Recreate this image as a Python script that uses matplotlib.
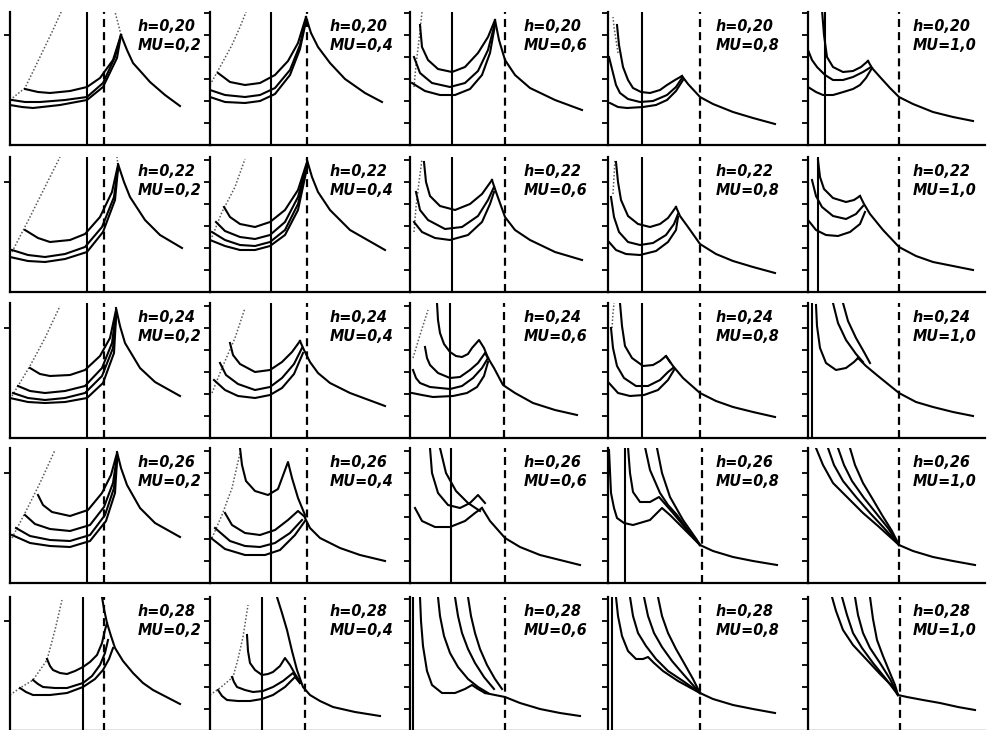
import matplotlib
matplotlib.use('Agg')
import matplotlib.pyplot as plt

h_vals = ['0,20', '0,22', '0,24', '0,26', '0,28']
mu_vals = ['0,2', '0,4', '0,6', '0,8', '1,0']

# frame of each panel in the scan (pixels)
col_left = [10, 210, 410, 608, 808]
col_right = [210, 410, 608, 808, 985]
row_top = [12, 157, 303, 448, 597]
row_bottom = [145, 292, 438, 583, 731]

# vertical marker lines, local x from the left axis, one row per h
solid_x = [[77, 61, 42, 34, 17],
           [77, 61, 42, 34, 10],
           [77, 61, 40, 34, 4],
           [77, 61, 41, 17, 0],
           [73, 52, 3, 4, 0]]
dashed_x = [[94, 97, 95, 92, 91],
            [94, 97, 95, 92, 91],
            [94, 97, 94, 92, 91],
            [94, 97, 95, 94, 91],
            [94, 95, 95, 92, 92]]

# --- h=0,20 ---
env_00 = [[(0, 45), (15, 57), (30, 88), (43, 115), (52, 135)], [(111, 110), (108, 122), (105, 133)]]
lines_00 = [
    [(15, 56), (28, 53), (40, 52), (60, 54), (77, 58), (90, 67), (103, 85), (111, 110)],
    [(2, 45), (15, 43), (30, 43), (55, 45), (77, 48), (93, 62), (105, 88), (111, 110)],
    [(0, 40), (12, 38), (23, 37), (50, 40), (77, 45), (93, 58), (107, 87), (111, 110)],
    [(111, 110), (117, 95), (123, 82), (132, 72), (140, 63), (155, 50), (170, 39)],
]
env_01 = [[(0, 60), (10, 78), (22, 100), (30, 118), (36, 133)]]
lines_01 = [
    [(8, 72), (20, 63), (35, 60), (50, 62), (65, 70), (78, 84), (88, 102), (96, 128)],
    [(0, 55), (15, 50), (35, 48), (50, 50), (65, 57), (80, 75), (90, 100), (96, 126)],
    [(0, 48), (15, 43), (35, 42), (50, 44), (65, 51), (80, 70), (90, 96), (96, 124)],
    [(96, 128), (101, 112), (108, 98), (120, 82), (135, 66), (155, 52), (172, 43)],
]
env_02 = [[(4, 58), (6, 80), (9, 105), (12, 133)]]
lines_02 = [
    [(10, 120), (12, 98), (18, 85), (28, 76), (42, 73), (55, 78), (68, 92), (78, 108), (85, 125)],
    [(4, 88), (10, 72), (22, 62), (40, 58), (55, 62), (68, 74), (78, 95), (85, 122)],
    [(2, 62), (15, 54), (30, 50), (45, 50), (60, 56), (72, 70), (80, 92), (85, 120)],
    [(85, 125), (89, 105), (95, 85), (105, 70), (120, 57), (145, 45), (172, 35)],
]
env_03 = [[(10, 92), (8, 105), (6, 118), (5, 128)]]
lines_03 = [
    [(9, 120), (11, 100), (15, 78), (20, 65), (25, 57), (33, 53), (42, 52), (52, 55), (59, 60), (67, 65), (74, 69)],
    [(1, 88), (5, 72), (8, 60), (12, 52), (20, 46), (32, 43), (45, 44), (59, 50), (68, 58), (74, 67)],
    [(2, 42), (10, 38), (19, 37), (35, 38), (48, 40), (59, 45), (68, 54), (75, 65)],
    [(74, 69), (80, 61), (92, 48), (105, 41), (125, 33), (145, 27), (167, 21)],
]
env_04 = []
lines_04 = [
    [(14, 135), (16, 110), (19, 88), (25, 78), (35, 73), (45, 74), (53, 78), (60, 84)],
    [(0, 95), (4, 85), (9, 78), (17, 70), (25, 65), (35, 65), (45, 68), (55, 73), (63, 78)],
    [(0, 58), (8, 53), (15, 50), (25, 50), (32, 52), (45, 56), (52, 60), (58, 67), (64, 77)],
    [(60, 84), (64, 77), (72, 68), (82, 57), (91, 48), (105, 41), (125, 33), (145, 28), (165, 24)],
]

# --- h=0,22 ---
env_10 = [[(2, 40), (20, 75), (35, 105), (50, 135)], [(108, 127), (107, 135)]]
lines_10 = [
    [(15, 62), (28, 54), (40, 50), (60, 52), (75, 58), (90, 75), (102, 100), (108, 127)],
    [(2, 42), (18, 37), (35, 35), (55, 38), (75, 45), (92, 65), (104, 95), (108, 125)],
    [(0, 35), (18, 31), (35, 30), (55, 33), (77, 40), (93, 60), (105, 92), (108, 123)],
    [(108, 128), (114, 110), (120, 95), (135, 72), (150, 57), (172, 44)],
]
env_11 = [[(2, 55), (12, 80), (25, 105), (35, 133)]]
lines_11 = [
    [(14, 85), (20, 75), (30, 68), (45, 65), (60, 70), (75, 82), (88, 102), (97, 130)],
    [(6, 70), (15, 61), (30, 55), (45, 53), (60, 57), (75, 70), (88, 95), (97, 128)],
    [(2, 60), (15, 52), (30, 47), (45, 46), (60, 50), (75, 62), (88, 88), (97, 126)],
    [(0, 52), (15, 46), (30, 42), (45, 42), (60, 46), (75, 57), (88, 82), (97, 124)],
    [(97, 132), (102, 115), (108, 100), (120, 82), (140, 62), (175, 42)],
]
env_12 = [[(4, 60), (6, 85), (9, 110), (12, 133)]]
lines_12 = [
    [(14, 130), (16, 110), (20, 96), (30, 86), (45, 82), (60, 88), (72, 98), (82, 112)],
    [(6, 100), (10, 82), (18, 72), (35, 63), (52, 65), (68, 76), (78, 92), (84, 105)],
    [(4, 70), (12, 60), (25, 54), (40, 52), (58, 57), (72, 70), (80, 88), (84, 100)],
    [(82, 112), (86, 100), (95, 75), (105, 62), (120, 52), (145, 40), (172, 32)],
]
env_13 = [[(5, 98), (6, 115), (7, 133)]]
lines_13 = [
    [(8, 130), (10, 110), (13, 92), (20, 76), (30, 68), (42, 65), (52, 68), (60, 74), (68, 85)],
    [(3, 95), (6, 75), (11, 60), (20, 50), (32, 47), (45, 49), (58, 57), (66, 68), (70, 78)],
    [(1, 50), (8, 42), (18, 38), (32, 37), (48, 41), (60, 50), (68, 62), (70, 75)],
    [(68, 85), (72, 76), (80, 65), (92, 48), (108, 38), (125, 31), (145, 25), (167, 19)],
]
env_14 = []
lines_14 = [
    [(10, 132), (12, 115), (16, 103), (25, 94), (38, 90), (46, 92), (52, 96)],
    [(4, 112), (8, 96), (14, 85), (25, 76), (38, 73), (48, 78), (55, 86)],
    [(0, 72), (8, 62), (18, 57), (30, 56), (42, 60), (52, 68), (57, 80)],
    [(52, 96), (56, 88), (62, 78), (75, 62), (91, 45), (108, 36), (125, 30), (145, 26), (165, 22)],
]

# --- h=0,24 ---
env_20 = [[(2, 42), (20, 72), (35, 100), (50, 132)]]
lines_20 = [
    [(20, 70), (30, 64), (40, 62), (60, 63), (75, 68), (90, 82), (100, 100), (106, 128)],
    [(8, 52), (20, 47), (35, 45), (55, 47), (75, 52), (92, 70), (102, 95), (106, 125)],
    [(3, 45), (18, 40), (35, 38), (55, 40), (75, 45), (92, 62), (103, 90), (106, 122)],
    [(0, 40), (18, 36), (35, 35), (55, 36), (77, 40), (93, 55), (104, 85), (106, 120)],
    [(106, 130), (110, 112), (115, 95), (130, 70), (145, 56), (170, 42)],
]
env_21 = [[(2, 45), (12, 70), (25, 100), (35, 130)]]
lines_21 = [
    [(20, 95), (23, 83), (30, 74), (45, 66), (60, 68), (72, 76), (82, 86), (90, 97)],
    [(10, 75), (16, 63), (28, 54), (45, 48), (60, 51), (72, 60), (84, 74), (92, 90)],
    [(4, 58), (15, 48), (28, 42), (45, 40), (60, 43), (72, 50), (84, 64), (93, 85)],
    [(90, 97), (94, 88), (100, 76), (108, 65), (120, 55), (140, 45), (175, 32)],
]
env_22 = [[(3, 80), (10, 103), (18, 128)]]
lines_22 = [
    [(27, 135), (28, 118), (30, 105), (34, 94), (40, 86), (46, 82), (52, 81), (58, 84), (62, 90), (69, 98), (74, 90), (78, 80)],
    [(15, 91), (17, 80), (20, 73), (28, 65), (40, 60), (50, 61), (60, 68), (68, 75), (75, 85), (78, 80)],
    [(3, 68), (6, 60), (10, 55), (20, 51), (40, 49), (52, 52), (63, 60), (72, 70), (78, 80)],
    [(2, 45), (12, 43), (23, 41), (43, 42), (57, 45), (67, 51), (74, 62), (78, 76)],
    [(78, 80), (84, 70), (93, 53), (105, 45), (123, 35), (145, 28), (167, 23)],
]
env_23 = [[(4, 110), (5, 125), (6, 135)]]
lines_23 = [
    [(12, 135), (14, 112), (17, 92), (24, 80), (35, 72), (45, 73), (52, 77), (58, 82), (62, 76)],
    [(3, 110), (5, 90), (9, 72), (16, 60), (28, 52), (40, 52), (52, 58), (60, 66), (65, 70)],
    [(1, 55), (10, 45), (22, 42), (36, 43), (50, 48), (60, 58), (66, 68)],
    [(58, 82), (65, 72), (75, 60), (92, 45), (108, 37), (125, 31), (145, 26), (167, 21)],
]
env_24 = []
lines_24 = [
    [(8, 133), (9, 112), (12, 90), (18, 75), (28, 68), (38, 70), (46, 76), (50, 80)],
    [(25, 135), (30, 115), (38, 98), (48, 84), (55, 76)],
    [(35, 135), (40, 117), (48, 100), (56, 86), (62, 75)],
    [(50, 80), (58, 72), (70, 62), (91, 45), (108, 36), (125, 31), (145, 26), (165, 22)],
]

# --- h=0,26 ---
env_30 = [[(2, 45), (15, 70), (30, 100), (45, 133)]]
lines_30 = [
    [(28, 88), (33, 78), (42, 71), (60, 67), (78, 73), (92, 90), (101, 108), (107, 130)],
    [(15, 68), (25, 59), (40, 54), (60, 52), (80, 58), (94, 76), (103, 100), (107, 127)],
    [(6, 55), (20, 47), (40, 43), (60, 42), (80, 48), (95, 68), (104, 95), (107, 124)],
    [(2, 48), (20, 40), (40, 37), (60, 36), (80, 42), (96, 62), (105, 90), (107, 122)],
    [(107, 131), (111, 115), (117, 98), (130, 75), (145, 60), (170, 46)],
]
env_31 = [[(2, 45), (12, 68), (22, 95), (30, 130)]]
lines_31 = [
    [(30, 135), (32, 118), (36, 102), (45, 92), (58, 88), (68, 94), (78, 121), (82, 105), (88, 85), (95, 68)],
    [(15, 70), (22, 58), (35, 50), (50, 48), (65, 53), (78, 63), (88, 72), (95, 66)],
    [(5, 55), (20, 42), (35, 37), (50, 36), (65, 40), (80, 50), (92, 63)],
    [(1, 45), (15, 34), (35, 28), (55, 28), (70, 33), (85, 48), (95, 62)],
    [(95, 65), (100, 55), (110, 45), (130, 35), (150, 28), (175, 22)],
]
env_32 = []
lines_32 = [
    [(20, 135), (22, 110), (28, 90), (38, 78), (50, 75), (60, 80), (68, 88), (75, 80)],
    [(5, 75), (12, 62), (25, 56), (40, 56), (55, 62), (65, 70), (72, 75)],
    [(30, 135), (36, 110), (46, 92), (58, 80), (70, 72)],
    [(72, 75), (80, 62), (95, 45), (110, 36), (130, 28), (150, 23), (170, 18)],
]
env_33 = []
lines_33 = [
    [(20, 136), (22, 110), (25, 91), (32, 81), (42, 81), (51, 86), (58, 78), (65, 70), (80, 52), (92, 38)],
    [(1, 133), (3, 90), (6, 75), (9, 65), (16, 60), (25, 58), (42, 63), (54, 75), (62, 68), (69, 61), (80, 50), (92, 38)],
    [(37, 136), (42, 113), (52, 90), (60, 78), (69, 68), (85, 46), (92, 38)],
    [(49, 135), (54, 110), (62, 86), (75, 63), (89, 43), (92, 38)],
    [(92, 38), (105, 32), (125, 26), (145, 22), (169, 18)],
]
env_34 = []
lines_34 = [
    [(8, 135), (15, 118), (25, 100), (40, 85), (55, 70), (70, 57), (91, 38)],
    [(20, 135), (26, 118), (35, 102), (48, 86), (62, 70), (76, 55), (91, 38)],
    [(30, 135), (36, 118), (44, 102), (56, 85), (68, 70), (80, 55), (91, 38)],
    [(42, 135), (47, 118), (55, 100), (64, 85), (74, 68), (84, 52), (91, 38)],
    [(91, 38), (105, 32), (125, 26), (145, 22), (167, 18)],
]

# --- h=0,28 ---
env_40 = [[(0, 36), (10, 43), (23, 51), (37, 71), (45, 101), (52, 131)]]
lines_40 = [
    [(92, 134), (94, 122), (97, 108), (101, 95), (105, 83), (113, 70), (123, 58), (133, 48), (143, 41), (170, 27)],
    [(37, 72), (40, 65), (43, 61), (50, 58), (57, 57), (65, 60), (73, 64), (80, 69), (87, 76), (92, 88), (95, 101), (97, 108)],
    [(23, 51), (28, 47), (33, 44), (45, 43), (57, 43), (73, 48), (82, 55), (90, 66), (95, 78), (98, 91)],
    [(10, 43), (16, 39), (23, 36), (40, 36), (57, 38), (73, 44), (85, 52), (93, 61), (99, 72), (103, 83)],
]
env_41 = [[(0, 36), (10, 43), (23, 54), (28, 72), (33, 94), (38, 126)]]
lines_41 = [
    [(67, 134), (72, 118), (77, 101), (82, 80), (87, 61), (93, 44), (100, 36), (110, 30), (123, 24), (145, 19), (170, 15)],
    [(37, 96), (38, 80), (40, 68), (45, 61), (52, 56), (58, 57), (63, 59), (70, 65), (75, 73), (80, 66), (85, 57), (90, 49)],
    [(22, 54), (24, 49), (27, 44), (35, 41), (43, 39), (53, 40), (63, 44), (73, 50), (83, 58), (90, 48)],
    [(8, 41), (12, 35), (17, 31), (28, 30), (40, 30), (52, 32), (63, 36), (75, 44), (85, 54), (90, 48)],
]
env_42 = []
lines_42 = [
    [(10, 134), (11, 110), (13, 85), (17, 60), (22, 46), (32, 38), (45, 38), (55, 42), (62, 46), (68, 42), (75, 38)],
    [(28, 134), (30, 115), (34, 95), (40, 78), (48, 64), (58, 52), (68, 44), (78, 38)],
    [(45, 134), (48, 115), (52, 98), (58, 82), (65, 68), (74, 54), (84, 42)],
    [(58, 134), (61, 115), (65, 98), (70, 82), (77, 66), (85, 52), (92, 42)],
    [(75, 38), (85, 36), (95, 34), (110, 28), (130, 22), (150, 18), (170, 15)],
]
env_43 = []
lines_43 = [
    [(8, 134), (10, 115), (14, 95), (20, 80), (28, 72), (35, 72), (40, 74), (46, 68), (55, 60), (70, 50), (92, 38)],
    [(22, 134), (25, 115), (30, 98), (38, 85), (48, 72), (60, 60), (75, 50), (92, 38)],
    [(36, 134), (40, 115), (46, 98), (54, 84), (64, 70), (76, 56), (92, 38)],
    [(50, 134), (54, 115), (60, 98), (68, 82), (76, 68), (85, 52), (92, 38)],
    [(92, 38), (105, 32), (125, 26), (145, 22), (167, 18)],
]
env_44 = []
lines_44 = [
    [(24, 134), (28, 120), (35, 101), (45, 86), (59, 71), (72, 57), (85, 44), (90, 36)],
    [(34, 134), (39, 116), (45, 98), (54, 83), (65, 68), (78, 52), (90, 36)],
    [(47, 134), (50, 116), (55, 98), (62, 83), (72, 68), (82, 52), (90, 36)],
    [(62, 134), (65, 112), (69, 91), (75, 75), (82, 58), (87, 46), (90, 36)],
    [(90, 36), (99, 34), (115, 31), (132, 28), (150, 24), (167, 21)],
]

panels = {
    (0, 0): (env_00, lines_00), (0, 1): (env_01, lines_01), (0, 2): (env_02, lines_02),
    (0, 3): (env_03, lines_03), (0, 4): (env_04, lines_04),
    (1, 0): (env_10, lines_10), (1, 1): (env_11, lines_11), (1, 2): (env_12, lines_12),
    (1, 3): (env_13, lines_13), (1, 4): (env_14, lines_14),
    (2, 0): (env_20, lines_20), (2, 1): (env_21, lines_21), (2, 2): (env_22, lines_22),
    (2, 3): (env_23, lines_23), (2, 4): (env_24, lines_24),
    (3, 0): (env_30, lines_30), (3, 1): (env_31, lines_31), (3, 2): (env_32, lines_32),
    (3, 3): (env_33, lines_33), (3, 4): (env_34, lines_34),
    (4, 0): (env_40, lines_40), (4, 1): (env_41, lines_41), (4, 2): (env_42, lines_42),
    (4, 3): (env_43, lines_43), (4, 4): (env_44, lines_44),
}

label_left = [128, 120, 114, 108, 105]

W, H = 988, 730
fig = plt.figure(figsize=(W / 100, H / 100), dpi=100)
fig.patch.set_facecolor('white')

for r in range(5):
    for c in range(5):
        left, right = col_left[c], col_right[c]
        top, bottom = row_top[r], row_bottom[r]
        w, h = right - left, bottom - top
        ax = fig.add_axes([left / W, 1 - bottom / H, w / W, h / H])
        ax.set_xlim(0, w)
        ax.set_ylim(0, h)
        for s in ['top', 'right']:
            ax.spines[s].set_visible(False)
        for s in ['left', 'bottom']:
            ax.spines[s].set_linewidth(1.6)
        ax.set_xticks([])
        if c == 0:
            ax.set_yticks([110])
        else:
            ax.set_yticks([22, 44, 66, 88, 110, 132])
        ax.tick_params(axis='y', direction='out', length=4, width=1.3, labelleft=False)
        ax.patch.set_alpha(0)

        ax.axvline(solid_x[r][c], color='k', lw=1.5)
        ax.axvline(dashed_x[r][c], color='k', lw=1.6, ls=(0, (3.6, 2.3)))

        env, lines = panels[(r, c)]
        for seg in env:
            xs = [p[0] for p in seg]
            ys = [p[1] for p in seg]
            ax.plot(xs, ys, color='0.35', lw=1.1, ls=(0, (1, 1.3)))
        for seg in lines:
            xs = [p[0] for p in seg]
            ys = [p[1] for p in seg]
            ax.plot(xs, ys, color='k', lw=1.5, solid_joinstyle='round')

        tx = label_left[c]
        font = dict(family='DejaVu Sans', fontstretch='condensed', style='italic',
                    fontweight='bold', fontsize=11.5)
        ax.text(tx, h - 7, 'h=' + h_vals[r], ha='left', va='top', **font)
        ax.text(tx, h - 26, 'MU=' + mu_vals[c], ha='left', va='top', **font)

fig.savefig('out.png', dpi=100, facecolor='white')
